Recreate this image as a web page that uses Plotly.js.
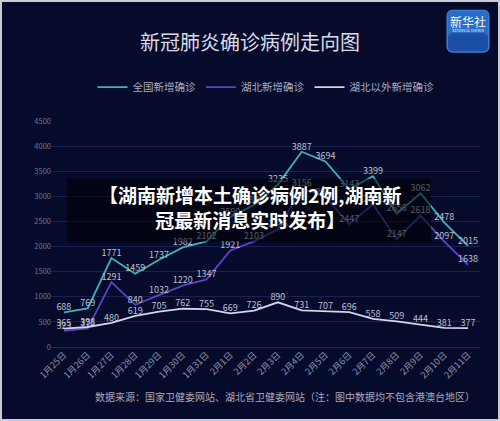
<!DOCTYPE html>
<html><head><meta charset="utf-8">
<script src="https://cdn.plot.ly/plotly-3.0.1.min.js"></script>
<style>
html,body{margin:0;padding:0;background:#c9ccd6;}
#chart{position:absolute;left:2px;top:2px;width:496px;height:417px;}
</style></head>
<body><div id="chart"></div>
<script>
const dates = ["1月25日","1月26日","1月27日","1月28日","1月29日","1月30日","1月31日","2月1日","2月2日","2月3日","2月4日","2月5日","2月6日","2月7日","2月8日","2月9日","2月10日","2月11日"];
const national = [688,769,1771,1459,1737,1982,2102,2590,2829,3235,3887,3694,3143,3399,2656,3062,2478,2015];
const hubei = [323,371,1291,840,1032,1220,1347,1921,2103,2345,3156,2987,2447,2841,2147,2618,2097,1638];
const outside = [365,398,480,619,705,762,755,669,726,890,731,707,696,558,509,444,381,377];
const seriesNames = ["全国新增确诊","湖北新增确诊","湖北以外新增确诊"];

const W=496,H=417,ML=50,MR=18,MT=119,MB=71.5;
const PW=W-ML-MR, PH=H-MT-MB;
const px=x=>(x-2-ML)/PW, py=y=>1-(y-2-MT)/PH;
const font="'Noto Sans CJK SC','Noto Sans',sans-serif";
const lblFont={family:font,size:9,color:'#bcc0d4'};

function tr(name,y,color){
  return {x:dates,y:y,name:name,type:'scatter',mode:'lines+text',
    text:y.map(String),textposition:'top center',textfont:lblFont,
    line:{color:color,width:1.8},hoverinfo:'x+y'};
}
const data=[tr(seriesNames[0],national,'#3bb3bd'),tr(seriesNames[1],hubei,'#5a45c8'),tr(seriesNames[2],outside,'#d4d4ea')];

function roundRect(x0,y0,x1,y1,r){
  const X=v=>px(v),Y=v=>py(v);
  return `M ${X(x0+r)} ${Y(y0)} L ${X(x1-r)} ${Y(y0)} Q ${X(x1)} ${Y(y0)} ${X(x1)} ${Y(y0+r)} L ${X(x1)} ${Y(y1-r)} Q ${X(x1)} ${Y(y1)} ${X(x1-r)} ${Y(y1)} L ${X(x0+r)} ${Y(y1)} Q ${X(x0)} ${Y(y1)} ${X(x0)} ${Y(y1-r)} L ${X(x0)} ${Y(y0+r)} Q ${X(x0)} ${Y(y0)} ${X(x0+r)} ${Y(y0)} Z`;
}

const layout={
  width:W,height:H,margin:{l:ML,r:MR,t:MT,b:MB},
  paper_bgcolor:'#060b2b',plot_bgcolor:'#060b2b',
  font:{family:font,color:'#b9bdd2'},
  title:{text:'新冠肺炎确诊病例走向图',font:{family:font,size:20,color:'#d9dbe6'},x:0.5,xanchor:'center',y:1-41/H,yanchor:'middle'},
  showlegend:true,
  legend:{orientation:'h',x:0.5,xanchor:'center',y:py(87),yanchor:'middle',font:{family:font,size:10.5,color:'#a9adc4'},bgcolor:'rgba(0,0,0,0)',itemwidth:30},
  xaxis:{type:'category',range:[-0.5,17.5],tickangle:-45,tickfont:{family:font,size:9,color:'#8d92ad'},showgrid:false,zeroline:false,showline:false,ticks:'',fixedrange:true},
  yaxis:{range:[0,4500],dtick:500,tickfont:{family:font,size:7.5,color:'#6f7594'},gridcolor:'#1a2250',gridwidth:1,zeroline:true,zerolinecolor:'#1f2858',showline:false,ticks:'',fixedrange:true},
  shapes:[
    {type:'rect',xref:'paper',yref:'paper',x0:px(67),x1:px(431),y0:py(179),y1:py(242),fillcolor:'rgba(0,0,0,0.55)',line:{width:0},layer:'above'},
    {type:'path',xref:'paper',yref:'paper',path:roundRect(447,10,489,52,6),fillcolor:'#2b6cc9',line:{color:'#4a8be0',width:1},layer:'above'},
    {type:'path',xref:'paper',yref:'paper',path:roundRect(448,33,488,51,5),fillcolor:'#1c4ea6',line:{width:0},layer:'above'}
  ],
  annotations:[
    {xref:'paper',yref:'paper',x:px(250),y:py(207),text:'【湖南新增本土确诊病例2例,湖南新<br>冠最新消息实时发布】',showarrow:false,font:{family:font,size:19,color:'#ffffff',weight:'bold'},align:'center',xanchor:'center',yanchor:'middle'},
    {xref:'paper',yref:'paper',x:px(285),y:py(397),text:'数据来源：国家卫健委网站、湖北省卫健委网站（注：图中数据均不包含港澳台地区）',showarrow:false,font:{family:font,size:10,color:'#a6aac0'},xanchor:'center',yanchor:'middle'},
    {xref:'paper',yref:'paper',x:px(468),y:py(21),text:'新华社',showarrow:false,font:{family:font,size:12,color:'#ffffff'},xanchor:'center',yanchor:'middle'},
    {xref:'paper',yref:'paper',x:px(468),y:py(30),text:'XINHUA NEWS',showarrow:false,font:{family:'DejaVu Serif',size:4,color:'#e0e8ff'},xanchor:'center',yanchor:'middle'}
  ]
};
Plotly.newPlot('chart',data,layout,{displayModeBar:false,staticPlot:true});
</script></body></html>
